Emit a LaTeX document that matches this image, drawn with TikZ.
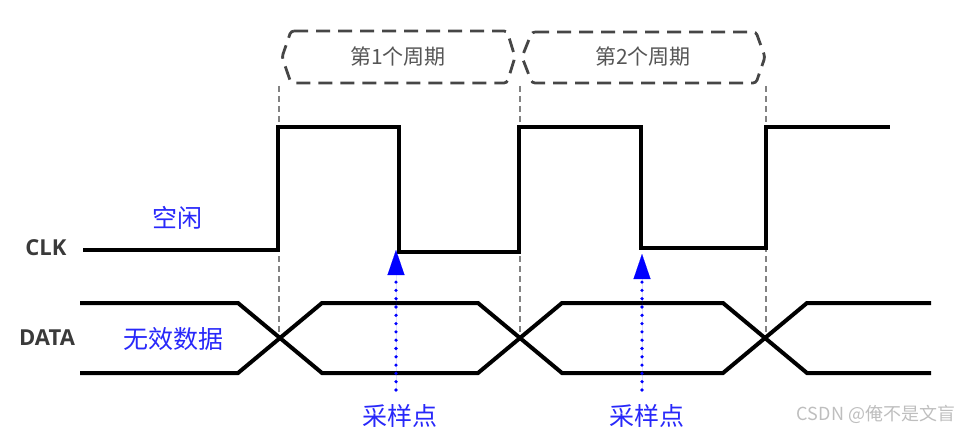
\documentclass[tikz,border=0pt]{standalone}
\usepackage{fontspec}
\setmainfont{Noto Sans}
\newfontfamily\cjk{Noto Sans CJK SC}
\newfontfamily\sigfont{Open Sans}
\usetikzlibrary{arrows.meta}
\definecolor{lblue}{RGB}{40,40,250}
\definecolor{pblue}{RGB}{0,0,255}
\definecolor{labgray}{RGB}{58,58,58}
\definecolor{boxgray}{RGB}{70,70,70}
\definecolor{ptext}{RGB}{85,85,85}
\definecolor{guidegray}{RGB}{130,130,130}
\definecolor{wmgray}{RGB}{190,190,190}
\begin{document}
\begin{tikzpicture}[x=1pt,y=-1pt,
  wave/.style={line width=4pt, line join=miter, black},
  guide/.style={draw=guidegray, line width=1.3pt, dash pattern=on 6pt off 4pt},
  period/.style={draw=boxgray, line width=2.8pt, dash pattern=on 14pt off 8pt, rounded corners=3pt},
  ptxt/.style={font=\cjk\fontsize{21}{24}\selectfont, text=ptext},
  sig/.style={font=\sigfont\bfseries\fontsize{22}{25}\selectfont, text=labgray},
  btxt/.style={font=\cjk\fontsize{25}{28}\selectfont, text=lblue},
  sample/.style={draw=pblue, line width=3.6pt, line cap=round, dash pattern=on 0pt off 8.3pt,
    -{Triangle[length=25pt,width=17pt,line width=0.1pt]}, fill=pblue},
  wm/.style={font=\cjk\fontsize{18}{21}\selectfont, text=wmgray}
]
\useasboundingbox (0,0) rectangle (963,433);

% period boxes
\draw[period] (291,31) -- (507,31) -- (515,57) -- (507,83) -- (291,83) -- (282,57) -- cycle;
\draw[period] (532,32) -- (756,32) -- (765,57) -- (756,83) -- (532,83) -- (522,57) -- cycle;
\node[ptxt] (p1) at (398,57) {第1个周期};
\node[ptxt] (p2) at (643,57) {第2个周期};

% guide lines
\coordinate (g1t) at (279,86); \coordinate (g1b) at (279,332);
\coordinate (g2t) at (520,86); \coordinate (g2b) at (520,338);
\coordinate (g3t) at (766,86); \coordinate (g3b) at (766,335);
\draw[guide] (g1t) -- (g1b);
\draw[guide] (g2t) -- (g2b);
\draw[guide] (g3t) -- (g3b);

% CLK
\draw[wave] (83,250) -- (278,250) -- (278,127) -- (399,127) -- (399,252) -- (519,252)
  -- (519,127) -- (641,127) -- (641,248) -- (766,248) -- (766,127) -- (890,127);

% DATA
\draw[wave] (80,303) -- (238,303) -- (322,373) -- (478,373) -- (562,303) -- (723,303) -- (807,373) -- (931,373);
\draw[wave] (80,373) -- (238,373) -- (322,303) -- (478,303) -- (562,373) -- (723,373) -- (807,303) -- (931,303);

% labels
\node[sig] (clk) at (46,248) {CLK};
\node[sig] (data) at (47,338) {DATA};
\node[btxt] (idle) at (177,218) {空闲};
\node[btxt] (inv) at (173,339) {无效数据};

% sampling arrows
\coordinate (s1b) at (396,390); \coordinate (s1t) at (396,250);
\coordinate (s2b) at (642,390); \coordinate (s2t) at (642,254);
\draw[sample] (s1b) -- (s1t);
\draw[sample] (s2b) -- (s2t);
\node[btxt] (sp1) at (400,416) {采样点};
\node[btxt] (sp2) at (647,416) {采样点};

\node[wm] (wmark) at (876,414) {CSDN @俺不是文盲};
\end{tikzpicture}
\end{document}
